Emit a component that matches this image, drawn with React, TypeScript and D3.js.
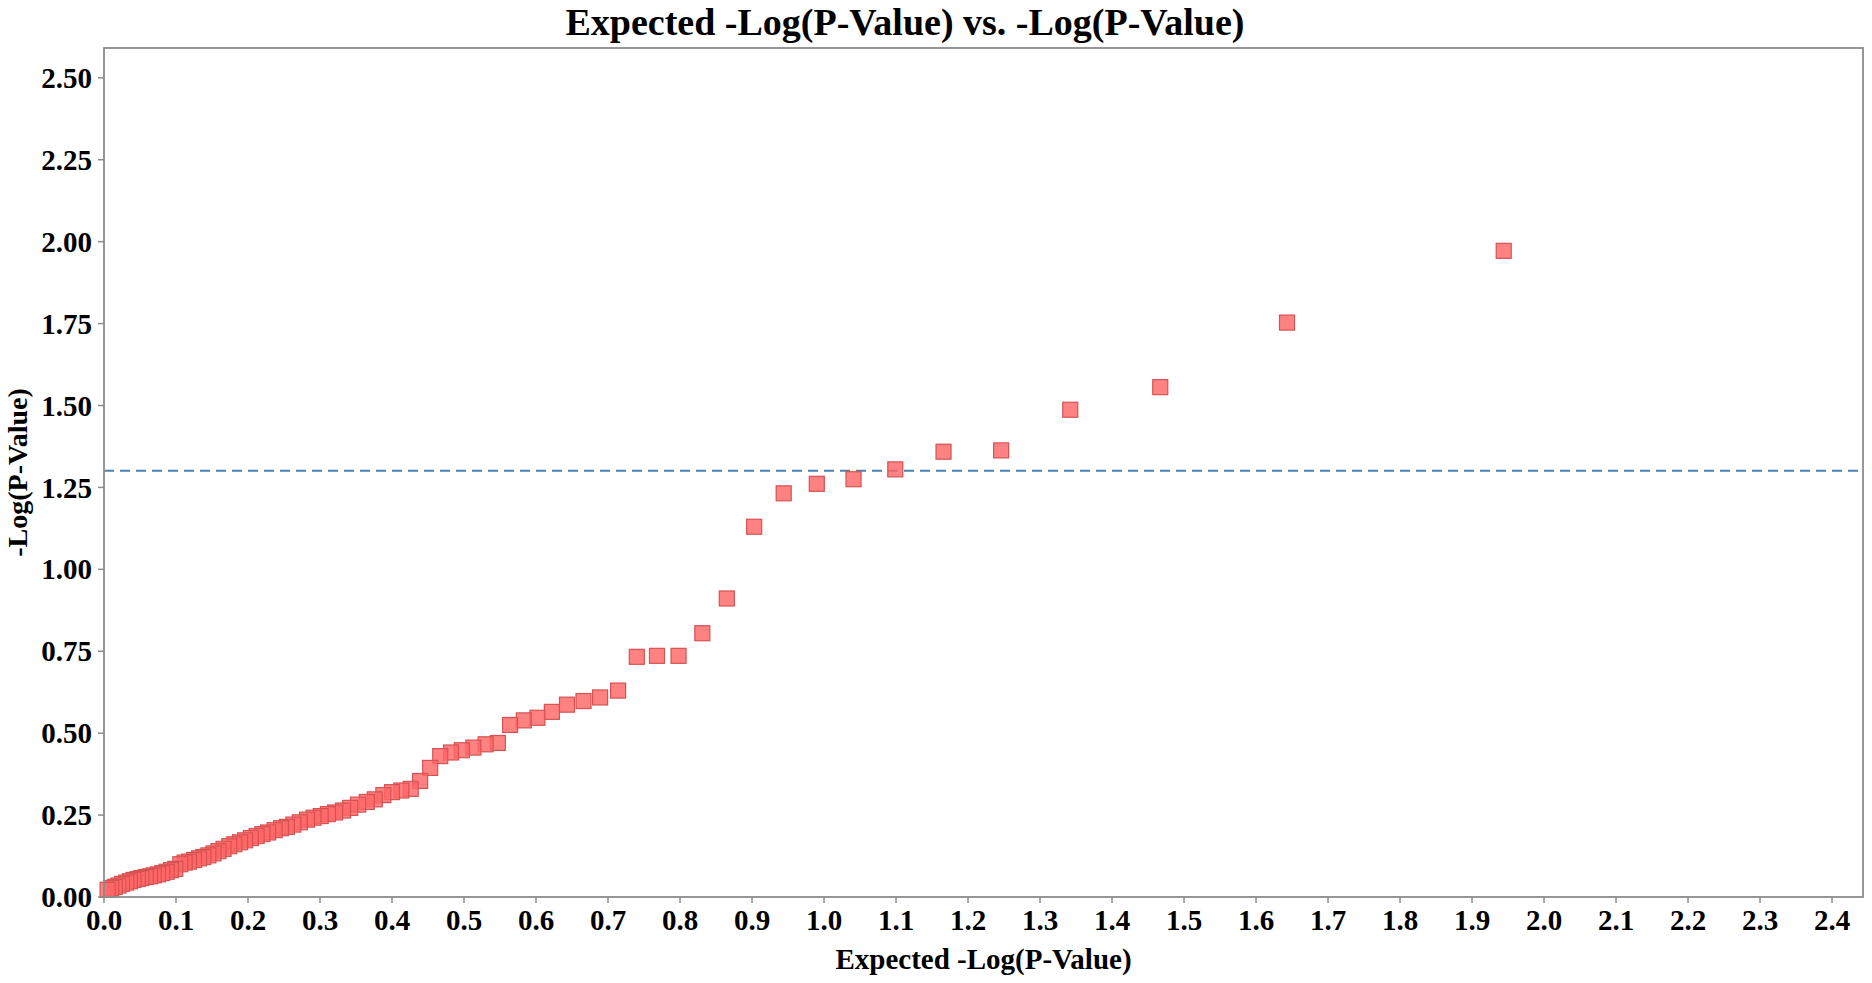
import { useMemo } from "react";
import * as d3 from "d3";

// expected -log10(p) quantiles
const expected = [
  1.944, 1.643, 1.467, 1.342, 1.246, 1.166, 1.099, 1.041, 0.99, 0.944,
  0.903, 0.865, 0.831, 0.798, 0.768, 0.74, 0.714, 0.689, 0.666, 0.643,
  0.622, 0.602, 0.583, 0.564, 0.547, 0.53, 0.513, 0.497, 0.482, 0.467,
  0.453, 0.439, 0.426, 0.413, 0.4, 0.388, 0.376, 0.365, 0.353, 0.342,
  0.332, 0.321, 0.311, 0.301, 0.291, 0.282, 0.272, 0.263, 0.254, 0.246,
  0.237, 0.228, 0.22, 0.212, 0.204, 0.196, 0.189, 0.181, 0.174, 0.166,
  0.159, 0.152, 0.145, 0.138, 0.132, 0.125, 0.118, 0.112, 0.106, 0.099,
  0.093, 0.087, 0.081, 0.075, 0.069, 0.064, 0.058, 0.052, 0.047, 0.041,
  0.036, 0.031, 0.025, 0.02, 0.015, 0.01, 0.005,
];

// observed -log10(p), same order
const observed = [
  1.972, 1.753, 1.556, 1.487, 1.363, 1.359, 1.305, 1.275, 1.261, 1.232,
  1.13, 0.911, 0.805, 0.736, 0.736, 0.733, 0.63, 0.609, 0.598, 0.587,
  0.565, 0.547, 0.539, 0.525, 0.47, 0.466, 0.456, 0.448, 0.441, 0.43,
  0.394, 0.354, 0.33, 0.325, 0.32, 0.311, 0.298, 0.29, 0.282, 0.272,
  0.264, 0.258, 0.253, 0.247, 0.242, 0.236, 0.228, 0.221, 0.214, 0.21,
  0.204, 0.197, 0.192, 0.186, 0.18, 0.173, 0.167, 0.161, 0.155, 0.147,
  0.14, 0.133, 0.127, 0.122, 0.118, 0.113, 0.108, 0.105, 0.1, 0.086,
  0.082, 0.077, 0.073, 0.069, 0.066, 0.063, 0.061, 0.058, 0.055, 0.052,
  0.048, 0.044, 0.04, 0.035, 0.031, 0.027, 0.022,
];

const xTicks = [
  0, 0.1, 0.2, 0.3, 0.4, 0.5, 0.6, 0.7, 0.8, 0.9, 1.0, 1.1, 1.2, 1.3, 1.4,
  1.5, 1.6, 1.7, 1.8, 1.9, 2.0, 2.1, 2.2, 2.3, 2.4,
];
const yTicks = [0, 0.25, 0.5, 0.75, 1.0, 1.25, 1.5, 1.75, 2.0, 2.25, 2.5];
const threshold = 1.301; // -log10(0.05)

const WIDTH = 1872;
const HEIGHT = 983;
const margin = { top: 48, right: 9, bottom: 86, left: 104 };
const font = "'Liberation Serif', 'Times New Roman', serif";

export default function App() {
  const { x, y } = useMemo(() => {
    const x = d3
      .scaleLinear()
      .domain([0, 2.443])
      .range([margin.left, WIDTH - margin.right]);
    const y = d3
      .scaleLinear()
      .domain([0, 2.591])
      .range([HEIGHT - margin.bottom, margin.top]);
    return { x, y };
  }, []);

  const points = expected.map((e, i) => ({ e, o: observed[i] }));
  const size = 15;
  const bottom = HEIGHT - margin.bottom;

  return (
    <svg
      width={WIDTH}
      height={HEIGHT}
      style={{ position: "absolute", left: 0, top: 0, background: "#fff" }}
      fontFamily={font}
    >
      <text x={905} y={35} textAnchor="middle" fontSize={38} fontWeight="bold">
        Expected -Log(P-Value) vs. -Log(P-Value)
      </text>

      <line
        x1={margin.left}
        x2={WIDTH - margin.right}
        y1={y(threshold)}
        y2={y(threshold)}
        stroke="#4f81b0"
        strokeWidth={2}
        strokeDasharray="10 6"
      />

      {points.map((p, i) => (
        <rect
          key={i}
          x={x(p.e) - size / 2}
          y={y(p.o) - size / 2}
          width={size}
          height={size}
          fill="#ff6666"
          fillOpacity={0.82}
          stroke="#d65252"
          strokeWidth={1.2}
        />
      ))}

      <rect
        x={margin.left}
        y={margin.top}
        width={WIDTH - margin.left - margin.right}
        height={bottom - margin.top}
        fill="none"
        stroke="#8c8c8c"
        strokeWidth={1.8}
      />

      {xTicks.map((t) => (
        <g key={t} transform={`translate(${x(t)},${bottom})`}>
          <line y1={0} y2={6} stroke="#8c8c8c" strokeWidth={1.5} />
          <text y={33} textAnchor="middle" fontSize={29} fontWeight="bold">
            {t.toFixed(1)}
          </text>
        </g>
      ))}

      {yTicks.map((t) => (
        <g key={t} transform={`translate(${margin.left},${y(t)})`}>
          <line x1={-6} x2={0} stroke="#8c8c8c" strokeWidth={1.5} />
          <text
            x={-12}
            dy="0.35em"
            textAnchor="end"
            fontSize={29}
            fontWeight="bold"
          >
            {t.toFixed(2)}
          </text>
        </g>
      ))}

      <text
        x={(margin.left + WIDTH - margin.right) / 2}
        y={969}
        textAnchor="middle"
        fontSize={29}
        fontWeight="bold"
      >
        Expected -Log(P-Value)
      </text>
      <text
        transform={`translate(27,${(margin.top + bottom) / 2}) rotate(-90)`}
        textAnchor="middle"
        fontSize={28}
        fontWeight="bold"
      >
        -Log(P-Value)
      </text>
    </svg>
  );
}
